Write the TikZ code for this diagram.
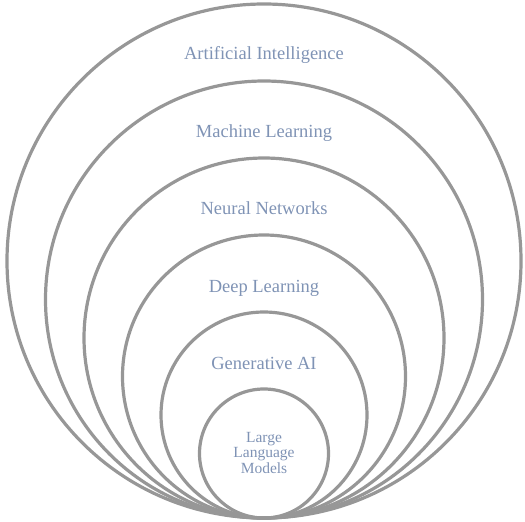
\documentclass[tikz,border=0pt]{standalone}
\usepackage{fontspec}
\setmainfont{Liberation Serif}
\usetikzlibrary{calc}
\definecolor{ringgray}{HTML}{979797}
\definecolor{labelblue}{HTML}{7F93B5}
\begin{document}
\begin{tikzpicture}[x=1pt,y=-1pt,
  ring/.style={draw=ringgray,line width=3.2pt,fill=none},
  lbl/.style={text=labelblue,font=\fontsize{18.5}{22}\selectfont,inner sep=0pt,anchor=base},
  smalllbl/.style={text=labelblue,font=\fontsize{15.5}{15.5}\selectfont,align=center,inner sep=0pt,anchor=base}]
\useasboundingbox (0,0) rectangle (525,522);
% nested rings, all touching at the bottom point
\coordinate (base) at (264,518);
\foreach \r/\n in {257/ai,218.5/ml,180/nn,141.5/dl,103/gen,64.5/llm}{
  \draw[ring] ($(base)+(0,-\r)$) circle[radius=\r];
}
\node[lbl] (tai) at (264,59) {Artificial Intelligence};
\node[lbl] (tml) at (264,137) {Machine Learning};
\node[lbl] (tnn) at (264,214) {Neural Networks};
\node[lbl] (tdl) at (264,292) {Deep Learning};
\node[lbl] (tgen) at (264,369) {Generative AI};
% the base anchor of a multi-line node sits on its last line
\node[smalllbl] (tllm) at (264,473) {Large\\Language\\Models};
\end{tikzpicture}
\end{document}
